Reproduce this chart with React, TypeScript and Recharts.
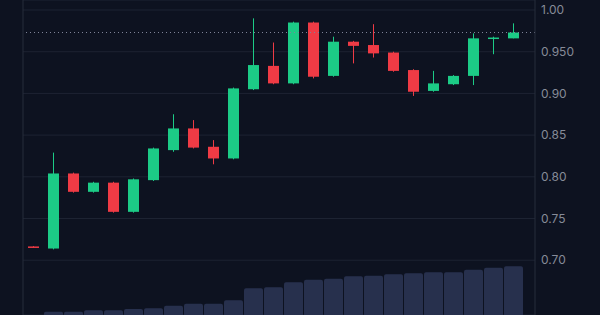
import { ComposedChart, Bar, XAxis, YAxis, CartesianGrid, ReferenceLine } from 'recharts'

const opens = [0.7165, 0.714, 0.804, 0.782, 0.793, 0.758, 0.796, 0.832, 0.858, 0.836, 0.822, 0.905, 0.933, 0.912, 0.985, 0.921, 0.962, 0.958, 0.949, 0.928, 0.903, 0.911, 0.921, 0.966, 0.966]
const highs = [0.7168, 0.829, 0.805, 0.794, 0.794, 0.798, 0.835, 0.875, 0.868, 0.844, 0.907, 0.99, 0.961, 0.986, 0.986, 0.968, 0.963, 0.983, 0.95, 0.929, 0.927, 0.922, 0.972, 0.968, 0.984]
const lows = [0.7152, 0.713, 0.781, 0.781, 0.757, 0.757, 0.795, 0.83, 0.834, 0.815, 0.821, 0.904, 0.911, 0.911, 0.918, 0.92, 0.936, 0.943, 0.926, 0.897, 0.902, 0.91, 0.91, 0.947, 0.966]
const closes = [0.7155, 0.804, 0.782, 0.793, 0.758, 0.797, 0.834, 0.858, 0.835, 0.822, 0.906, 0.934, 0.912, 0.985, 0.92, 0.962, 0.957, 0.948, 0.927, 0.902, 0.912, 0.921, 0.966, 0.967, 0.973]
const volumes = [null, 33, 33, 47, 47, 60, 67, 93, 113, 113, 147, 267, 277, 327, 353, 363, 387, 393, 407, 417, 427, 427, 453, 473, 487]

const priceTicks = [0.7, 0.75, 0.8, 0.85, 0.9, 0.95, 1.0]
const priceTickLabels = ['0.70', '0.75', '0.80', '0.85', '0.90', '0.950', '1.00']

const UP = '#1ccb86'
const DOWN = '#ef3b45'
const BG = '#0d1220'

const data = opens.map((o, i) => ({
  i,
  open: o,
  high: highs[i],
  low: lows[i],
  close: closes[i],
  range: [lows[i], highs[i]],
  volume: volumes[i],
}))

const lastClose = closes[closes.length - 1]

// candle drawn from the [low, high] range bar: wick spans the bar, body scaled inside it
function Candle(props: any) {
  const { x, y, width, height, payload } = props
  const { open, close, high, low } = payload
  const ratio = Math.abs(height) / (high - low)
  const top = Math.min(y, y + height)
  const yOpen = top + (high - open) * ratio
  const yClose = top + (high - close) * ratio
  const color = close >= open ? UP : DOWN
  const cx = x + width / 2
  const bodyTop = Math.min(yOpen, yClose)
  const bodyH = Math.max(1.5, Math.abs(yOpen - yClose))
  return (
    <g>
      <line x1={cx} x2={cx} y1={top} y2={top + Math.abs(height)} stroke={color} strokeWidth={1} />
      <rect x={x} y={bodyTop} width={width} height={bodyH} fill={color} />
    </g>
  )
}

export default function App() {
  return (
    <div style={{ position: 'absolute', left: 0, top: 0, width: 600, height: 315, background: BG }}>
      <ComposedChart width={600} height={315} data={data} margin={{ top: 0, right: 0, bottom: 0, left: 0 }}>
        <XAxis xAxisId="c" dataKey="i" type="number" domain={[-0.5, 25.1]} hide />
        <XAxis xAxisId="v" dataKey="i" type="number" domain={[-0.5, 25.1]} hide />
        <YAxis
          yAxisId="vol"
          orientation="left"
          width={23}
          domain={[0, 3150]}
          tick={false}
          tickLine={false}
          axisLine={{ stroke: '#262c3b' }}
        />
        <YAxis
          yAxisId="price"
          orientation="right"
          width={65}
          domain={[0.6343, 1.012]}
          allowDataOverflow
          ticks={priceTicks}
          tickFormatter={(v: number) => priceTickLabels[priceTicks.findIndex((t) => Math.abs(t - v) < 1e-6)] ?? String(v)}
          tick={{ fill: '#868b98', fontSize: 12, fontFamily: 'Inter, sans-serif' }}
          tickLine={false}
          tickSize={0}
          tickMargin={6}
          axisLine={{ stroke: '#262c3b' }}
        />
        <CartesianGrid yAxisId="price" xAxisId="c" vertical={false} stroke="#1d2332" />
        <Bar
          xAxisId="v"
          yAxisId="vol"
          dataKey="volume"
          barSize={19}
          fill="#27304d"
          radius={[2, 2, 0, 0]}
          isAnimationActive={false}
        />
        <ReferenceLine
          yAxisId="price"
          xAxisId="c"
          y={lastClose}
          stroke="#80869a"
          strokeDasharray="1 3"
        />
        <Bar
          xAxisId="c"
          yAxisId="price"
          dataKey="range"
          barSize={11}
          shape={<Candle />}
          isAnimationActive={false}
        />
      </ComposedChart>
    </div>
  )
}
